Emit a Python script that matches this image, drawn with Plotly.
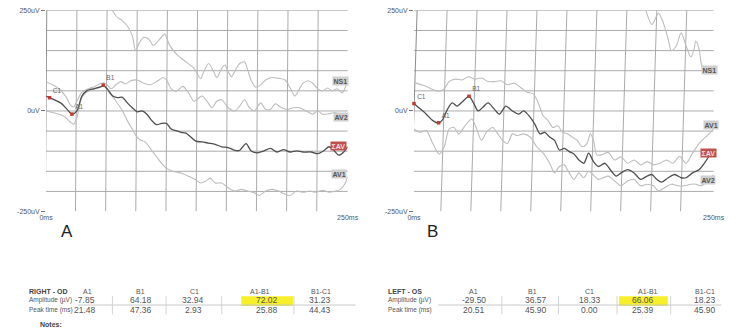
import plotly.graph_objects as go

W, H = 750, 333

# ---------------- data (ms, uV) ----------------
# Panel A (RIGHT - OD)
a_ns1_t = [51.2, 58.0, 63.4, 67.4, 71.5, 74.2, 76.9, 80.9, 84.9, 89.0, 94.4, 98.4, 102.5, 109.2, 116.0, 122.7,
           128.1, 130.8, 134.8, 138.9, 141.6, 145.6, 148.3, 151.0, 153.7, 157.8, 160.5, 164.5, 167.2, 169.9,
           173.9, 178.0, 182.0, 187.4, 192.8, 198.2, 202.3, 206.3, 209.0, 213.1, 217.1, 221.1, 225.2, 229.2,
           233.3, 237.3, 241.4, 245.4, 249.5]
a_ns1_v = [272, 236, 224, 211, 187, 150, 167, 183, 179, 163, 179, 191, 163, 138, 122, 106,
           80, 98, 118, 98, 83, 106, 114, 98, 85, 106, 118, 122, 102, 77,
           59, 65, 77, 83, 81, 77, 57, 37, 49, 69, 75, 69, 55, 50,
           57, 50, 55, 45, 70]

a_av2_t = [0, 5.4, 10.8, 16.2, 20.2, 22.9, 25.6, 29.7, 35.1, 40.5, 45.8, 49.9, 53.9, 58.0, 62.0, 66.0, 70.1,
           75.5, 80.9, 86.3, 91.7, 97.1, 99.8, 103.8, 107.9, 113.3, 117.3, 122.7, 126.8, 129.4, 133.5, 137.5,
           141.6, 145.6, 151.0, 156.4, 160.5, 164.5, 168.6, 172.6, 178.0, 182.0, 186.1, 190.1, 194.2, 199.6,
           205.0, 210.4, 215.7, 221.1, 225.2, 229.2, 234.6, 240.0, 245.4, 250]
a_av2_v = [72, 65, 55, 37, 15, 10, 24, 47, 55, 61, 69, 67, 55, 65, 73, 67, 75,
           77, 69, 65, 73, 83, 77, 55, 49, 61, 49, 24, 33, 37, 24, 8,
           24, 28, 8, 0, 12, 28, 8, 0, 20, 4, 4, 18, 10, 4,
           8, 8, 0, -8, 0, -8, -7, -4, -12, -8]

a_avg_t = [0, 2.2, 6.7, 12.1, 17.5, 21.6, 25.6, 29.7, 33.7, 39.1, 44.5, 47.7, 51.2, 55.3, 59.3, 63.4, 67.4,
           71.5, 75.5, 79.6, 83.6, 87.7, 91.7, 95.7, 99.8, 103.8, 107.9, 111.9, 116.0, 120.0, 124.1, 129.4,
           134.8, 140.2, 145.6, 151.0, 156.4, 160.5, 165.8, 169.9, 175.3, 180.7, 186.1, 191.5, 196.9, 202.3,
           207.7, 213.1, 219.8, 225.2, 230.6, 234.6, 238.7, 242.7, 246.8, 250]
a_avg_v = [37, 34, 28, 20, 4, -8, 0, 37, 50, 55, 59, 63, 53, 37, 33, 34, 20,
           8, -2, 0, -8, -24, -34, -31, -31, -45, -49, -53, -55, -65, -75, -77,
           -80, -83, -89, -91, -98, -98, -81, -99, -104, -99, -93, -102, -96, -102,
           -99, -102, -102, -106, -98, -89, -98, -110, -102, -89]

a_av1_t = [0, 5.4, 10.8, 16.2, 20.2, 22.9, 25.6, 29.7, 33.7, 39.1, 44.5, 48.5, 52.6, 58.0, 63.4, 67.4, 71.5,
           75.5, 78.2, 82.2, 86.3, 91.7, 95.7, 99.8, 105.2, 111.9, 118.7, 124.1, 128.1, 132.2, 136.2, 140.2,
           145.6, 151.0, 156.4, 161.8, 167.2, 172.6, 176.6, 182.0, 187.4, 192.8, 198.2, 202.3, 207.7, 213.1,
           218.5, 223.8, 229.2, 234.6, 240.0, 244.1, 248.1, 250]
a_av1_v = [0, -4, -8, -16, -28, -33, -16, 33, 47, 53, 59, 61, 45, 24, 0, -24, -45,
           -65, -72, -77, -93, -114, -130, -142, -150, -154, -163, -171, -179, -175, -167, -179,
           -179, -191, -199, -195, -199, -203, -210, -199, -195, -199, -207, -210, -199, -202,
           -199, -202, -197, -202, -199, -195, -179, -163]

# Panel B (LEFT - OS)
b_ns1_t = [191.8, 193.1, 198.5, 204.0, 208.0, 212.1, 214.8, 218.9, 222.9, 227.0, 231.0, 233.7, 235.1,
           237.8, 240.5, 244.6, 248.6]
b_ns1_v = [271, 253, 215, 243, 219, 178, 150, 162, 194, 162, 134, 154, 174,
           154, 109, 97, 101]

b_av1_t = [0, 4.9, 10.3, 15.7, 21.1, 25.2, 29.3, 34.7, 40.1, 45.5, 50.9, 56.3, 62.0, 67.2, 72.6, 78.0,
           83.4, 88.8, 94.3, 99.7, 103.7, 107.8, 111.9, 115.9, 120.0, 124.0, 128.1, 132.2, 136.2, 140.3,
           144.3, 147.1, 149.8, 152.5, 156.6, 162.0, 167.4, 172.8, 178.2, 183.6, 189.1, 194.5, 199.9,
           205.3, 210.7, 216.1, 221.6, 227.0, 232.4, 237.8, 243.2, 248.6, 250]
b_av1_v = [71, 66, 61, 53, 49, 55, 73, 79, 77, 85, 79, 82, 73, 73, 75, 65,
           69, 59, 47, 42, 20, -12, -24, -41, -37, -53, -57, -65, -73, -89,
           -81, -57, -73, -109, -109, -103, -122, -114, -130, -122, -134, -126, -134,
           -130, -122, -130, -113, -130, -105, -81, -65, -49, -36]

b_avg_t = [0, 4.9, 10.3, 15.7, 20.5, 23.8, 27.9, 31.9, 36.0, 40.1, 45.9, 49.6, 53.6, 57.7, 61.8, 67.2,
           71.2, 76.7, 82.1, 87.5, 91.5, 97.0, 101.0, 105.1, 109.2, 113.2, 117.3, 121.3, 125.4, 129.5,
           133.5, 137.6, 141.7, 145.7, 149.8, 153.8, 159.3, 164.7, 168.7, 172.8, 178.2, 183.6, 189.1,
           194.5, 198.5, 202.6, 206.7, 212.1, 217.5, 222.9, 227.0, 232.4, 237.8, 243.2, 248.6, 250]
b_avg_v = [18, 6, -8, -24, -30, -22, 4, 20, 12, 22, 36, 20, 0, 10, 20, 4,
           -8, 12, 0, -8, 0, -16, -34, -57, -53, -65, -73, -97, -93, -101,
           -107, -122, -130, -105, -126, -138, -130, -150, -162, -154, -146, -154, -170,
           -162, -158, -170, -177, -166, -158, -166, -166, -154, -146, -126, -101, -97]

b_av2_t = [0, 4.9, 10.3, 15.7, 21.1, 25.2, 29.3, 33.4, 37.4, 42.8, 48.2, 52.3, 56.3, 60.4, 65.8, 69.9,
           73.9, 78.0, 82.1, 86.1, 91.5, 97.0, 102.4, 107.8, 113.2, 117.3, 121.3, 125.4, 129.5, 133.5,
           137.6, 141.7, 145.7, 149.8, 153.8, 157.9, 162.0, 167.4, 172.8, 178.2, 183.6, 189.1, 194.5,
           199.9, 204.0, 209.4, 214.8, 220.2, 225.6, 231.0, 235.1, 239.2, 241.9, 245.9, 250]
b_av2_v = [-45, -53, -49, -81, -107, -89, -45, -41, -57, -36, -20, -45, -73, -53, -41, -57,
           -73, -81, -57, -61, -57, -65, -89, -105, -130, -154, -138, -134, -154, -170,
           -154, -166, -150, -160, -170, -166, -162, -174, -186, -174, -170, -186, -182,
           -186, -199, -190, -182, -186, -186, -182, -182, -186, -182, -170, -158]

# peak markers and table values
columns = ["A1", "B1", "C1", "A1-B1", "B1-C1"]
right_amp = [-7.85, 64.18, 32.94, 72.02, 31.23]
right_peak = [21.48, 47.36, 2.93, 25.88, 44.43]
left_amp = [-29.50, 36.57, 18.33, 66.06, 18.23]
left_peak = [20.51, 45.90, 0.00, 25.39, 45.90]

trace_labels_a = ["NS1", "AV2", "ΣAV", "AV1"]
trace_labels_b = ["NS1", "AV1", "ΣAV", "AV2"]

# ---------------- figure ----------------
def px(x):
    return x / W

def py(y):
    return 1 - y / H

LIGHT = "#bdbdbd"
DARK = "#4e4e4e"
GRID = "#ababab"
TXT = "#555555"

fig = go.Figure()

def add_panel(n, ns1, av_up, avg, av_lo, amp, peak):
    xa = "x" if n == 1 else "x2"
    ya = "y" if n == 1 else "y2"
    for (t, v) in [ns1, av_up, av_lo]:
        fig.add_trace(go.Scatter(x=t, y=v, mode="lines", xaxis=xa, yaxis=ya,
                                 line=dict(color=LIGHT, width=1.1, shape="spline", smoothing=0.8),
                                 hoverinfo="skip", showlegend=False))
    fig.add_trace(go.Scatter(x=avg[0], y=avg[1], mode="lines", xaxis=xa, yaxis=ya,
                             line=dict(color=DARK, width=1.3, shape="spline", smoothing=0.8),
                             hoverinfo="skip", showlegend=False))
    # peak markers A1, B1, C1
    fig.add_trace(go.Scatter(x=peak[:3], y=amp[:3], mode="markers+text", xaxis=xa, yaxis=ya,
                             marker=dict(color="#c23a30", size=3.5, symbol="square"),
                             text=columns[:3], textposition="top right",
                             textfont=dict(size=6.5, color="#666666", family="Liberation Sans"),
                             hoverinfo="skip", showlegend=False, cliponaxis=False))

add_panel(1, (a_ns1_t, a_ns1_v), (a_av2_t, a_av2_v), (a_avg_t, a_avg_v), (a_av1_t, a_av1_v),
          right_amp, right_peak)
add_panel(2, (b_ns1_t, b_ns1_v), (b_av1_t, b_av1_v), (b_avg_t, b_avg_v), (b_av2_t, b_av2_v),
          left_amp, left_peak)

shapes = []
# grids (scan is slightly skewed -> tilt vertical lines)
for n, tilt in [(1, 0.6), (2, 2.6)]:
    xa = "x" if n == 1 else "x2"
    ya = "y" if n == 1 else "y2"
    for v in range(250, -250, -50):
        shapes.append(dict(type="line", xref=xa, yref=ya, x0=0, x1=252, y0=v, y1=v,
                           line=dict(color=GRID, width=1), layer="below"))
    for t in range(25, 250, 25):
        shapes.append(dict(type="line", xref=xa, yref=ya, x0=t - tilt, x1=t + tilt, y0=-250, y1=250,
                           line=dict(color=GRID, width=1), layer="below"))
    shapes.append(dict(type="line", xref=xa, yref=ya, x0=-tilt, x1=tilt, y0=-250, y1=250,
                       line=dict(color="#8a8a8a", width=1), layer="below"))

annotations = []
# trace tag boxes
def tag(x, y, text, red=False):
    annotations.append(dict(x=px(x), y=py(y), xref="paper", yref="paper", text="<b>%s</b>" % text,
                            showarrow=False, font=dict(size=7, color="#f4dede" if red else "#555555",
                                                       family="Liberation Sans"),
                            bgcolor="#c0504d" if red else "#cfcfcf", borderpad=0.5,
                            xanchor="center", yanchor="middle"))

for (x, y), lab in zip([(342, 78.5), (342, 115.5), (339.5, 145), (340, 174)], trace_labels_a):
    tag(x, y, lab, red=(lab == "ΣAV"))
for (x, y), lab in zip([(720, 67), (721, 124), (718.5, 152), (718, 180)], trace_labels_b):
    tag(x, y, lab, red=(lab == "ΣAV"))

# panel letters
for x, y, s in [(61, 232, "A"), (436, 232, "B")]:
    annotations.append(dict(x=px(x), y=py(y), xref="paper", yref="paper", text=s, showarrow=False,
                            font=dict(size=17, color="#222222", family="Liberation Sans"),
                            xanchor="center", yanchor="middle"))

# tables
def table(x0, title, amp, peak, hdr_x, val_x, seps, yellow, line_x):
    fs_lab = 6.5
    annotations.append(dict(x=px(x0), y=py(294), xref="paper", yref="paper", text="<b>%s</b>" % title,
                            showarrow=False, xanchor="left", yanchor="middle",
                            font=dict(size=7, color="#444444", family="Liberation Sans")))
    annotations.append(dict(x=px(x0), y=py(302.5), xref="paper", yref="paper", text="Amplitude (µV)",
                            showarrow=False, xanchor="left", yanchor="middle",
                            font=dict(size=fs_lab, color=TXT, family="Liberation Sans")))
    annotations.append(dict(x=px(x0), y=py(312.5), xref="paper", yref="paper", text="Peak time (ms)",
                            showarrow=False, xanchor="left", yanchor="middle",
                            font=dict(size=fs_lab, color=TXT, family="Liberation Sans")))
    for hx, c in zip(hdr_x, columns):
        annotations.append(dict(x=px(hx), y=py(294), xref="paper", yref="paper", text=c,
                                showarrow=False, xanchor="center", yanchor="middle",
                                font=dict(size=7, color=TXT, family="Liberation Sans")))
    for vx, a, p in zip(val_x, amp, peak):
        annotations.append(dict(x=px(vx), y=py(302.5), xref="paper", yref="paper", text="%.2f" % a,
                                showarrow=False, xanchor="center", yanchor="middle",
                                font=dict(size=8.5, color=TXT, family="Liberation Sans")))
        annotations.append(dict(x=px(vx), y=py(312.5), xref="paper", yref="paper", text="%.2f" % p,
                                showarrow=False, xanchor="center", yanchor="middle",
                                font=dict(size=8.5, color=TXT, family="Liberation Sans")))
    shapes.append(dict(type="rect", xref="paper", yref="paper", x0=px(yellow[0]), x1=px(yellow[1]),
                       y0=py(308.5), y1=py(298.5), fillcolor="#f7ef2a", line=dict(width=0), layer="below"))
    shapes.append(dict(type="line", xref="paper", yref="paper", x0=px(line_x[0]), x1=px(line_x[1]),
                       y0=py(307.5), y1=py(307.5), line=dict(color="#c8c8c8", width=1)))
    for sx in seps:
        shapes.append(dict(type="line", xref="paper", yref="paper", x0=px(sx), x1=px(sx),
                           y0=py(298), y1=py(317), line=dict(color="#d4d4d4", width=1)))

table(20, "RIGHT - OD", right_amp, right_peak,
      [82, 137, 192, 259, 322], [80, 137, 191, 266, 321],
      [108, 163, 220, 294], (240, 293), (73, 357))
table(388, "LEFT - OS", left_amp, left_peak,
      [478, 538, 597, 657, 715], [478, 542, 597, 652, 715],
      [507, 565, 625, 680], (627, 677), (442, 732))

annotations.append(dict(x=px(32), y=py(327), xref="paper", yref="paper", text="<b>Notes:</b>",
                        showarrow=False, xanchor="left", yanchor="middle",
                        font=dict(size=7, color="#444444", family="Liberation Sans")))

axis_font = dict(size=7, color="#555555", family="Liberation Sans")
ydom = [py(212), py(6.5)]
common_x = dict(range=[0, 250], showgrid=False, zeroline=False, showline=False,
                tickmode="array", tickvals=[0, 250], ticktext=["0ms", "250ms"],
                ticks="", tickfont=axis_font, fixedrange=True)
common_y = dict(range=[-250, 250], showgrid=False, zeroline=False, showline=False,
                tickmode="array", tickvals=[-250, 0, 250], ticktext=["-250uV", "0uV", "250uV"],
                ticks="outside", ticklen=4, tickcolor="#777777", tickfont=axis_font, fixedrange=True)

fig.update_layout(
    width=W, height=H, margin=dict(l=0, r=0, t=0, b=0),
    paper_bgcolor="white", plot_bgcolor="white",
    xaxis=dict(domain=[px(40), px(349)], anchor="y", **common_x),
    yaxis=dict(domain=ydom, anchor="x", **common_y),
    xaxis2=dict(domain=[px(417), px(724)], anchor="y2", **common_x),
    yaxis2=dict(domain=ydom, anchor="x2", **common_y),
    shapes=shapes, annotations=annotations, showlegend=False,
)

fig.write_html("out.html")
